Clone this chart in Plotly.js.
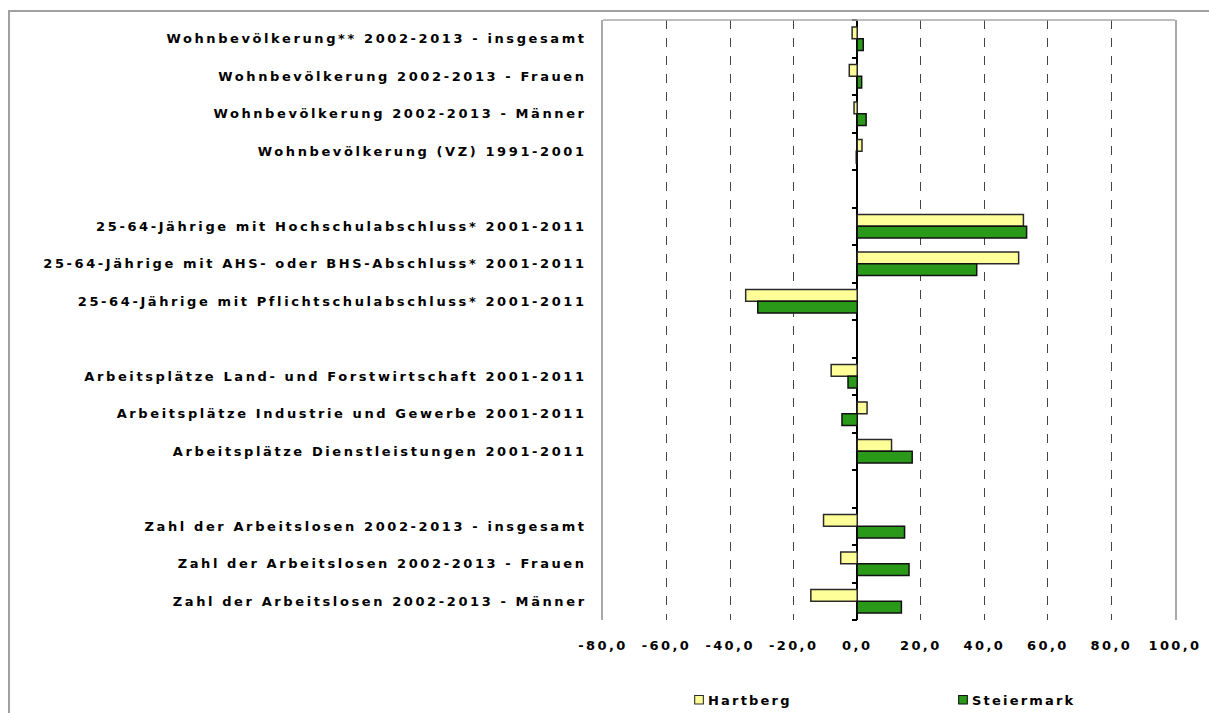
<!DOCTYPE html>
<html>
<head>
<meta charset="utf-8">
<script src="https://cdn.plot.ly/plotly-3.0.1.min.js"></script>
<style>
  html, body { margin: 0; padding: 0; background: #fff; overflow: hidden; }
  #chart { width: 1209px; height: 713px; position: absolute; left: 0; top: 0; }
  #frame { position: absolute; left: 8px; top: 10px; width: 1400px; height: 900px;
           border-left: 2px solid #a0a0a0; border-top: 2px solid #a0a0a0; pointer-events: none; z-index: 5; }
  .ytick text { letter-spacing: 2.6px; }
  .xtick text { letter-spacing: 2.4px; }
  .legendpoints path { transform: translate(20px, 0px) scale(0.72); }
</style>
</head>
<body>
<div id="chart"></div>
<div id="frame"></div>
<script>
const categories = [
  'Wohnbevölkerung** 2002-2013 - insgesamt',
  'Wohnbevölkerung 2002-2013 - Frauen',
  'Wohnbevölkerung 2002-2013 - Männer',
  'Wohnbevölkerung (VZ) 1991-2001',
  ' ',
  '25-64-Jährige mit Hochschulabschluss* 2001-2011',
  '25-64-Jährige mit AHS- oder BHS-Abschluss* 2001-2011',
  '25-64-Jährige mit Pflichtschulabschluss* 2001-2011',
  '  ',
  'Arbeitsplätze Land- und Forstwirtschaft 2001-2011',
  'Arbeitsplätze Industrie und Gewerbe 2001-2011',
  'Arbeitsplätze Dienstleistungen 2001-2011',
  '   ',
  'Zahl der Arbeitslosen 2002-2013 - insgesamt',
  'Zahl der Arbeitslosen 2002-2013 - Frauen',
  'Zahl der Arbeitslosen 2002-2013 - Männer'
];
const hartberg   = [-1.6, -2.5, -1.0, 1.5, null, 52.3, 50.8, -35.1, null, -8.2, 3.1, 10.8, null, -10.6, -5.2, -14.6];
const steiermark = [1.9, 1.4, 2.8, -0.3, null, 53.3, 37.6, -31.3, null, -2.9, -4.8, 17.3, null, 14.9, 16.3, 13.9];
const seriesNames = ['Hartberg', 'Steiermark'];
const xTickVals = [-80, -60, -40, -20, 0, 20, 40, 60, 80, 100];
const xTickLabels = ['-80,0', '-60,0', '-40,0', '-20,0', '0,0', '20,0', '40,0', '60,0', '80,0', '100,0'];

const FONT = 'DejaVu Sans, Verdana, sans-serif';
const n = categories.length;
const boundaries = [];
for (let i = 0; i <= n; i++) boundaries.push(i - 0.5);

const traces = [
  { type: 'bar', orientation: 'h', name: seriesNames[0], y: categories, x: hartberg, legend: 'legend',
    marker: { color: '#FFFF99', line: { color: '#2a2a2a', width: 1.5 } }, hoverinfo: 'x+name' },
  { type: 'bar', orientation: 'h', name: seriesNames[1], y: categories, x: steiermark, legend: 'legend2',
    marker: { color: '#2A991A', line: { color: '#111111', width: 1.5 } }, hoverinfo: 'x+name' },
  { type: 'scatter', mode: 'markers', x: [null], y: [null], yaxis: 'y2', showlegend: false, hoverinfo: 'skip' }
];

const legendBase = {
  orientation: 'h', xanchor: 'left', yanchor: 'middle', y: -0.133,
  font: { family: FONT, size: 13, color: '#000', weight: 'bold' },
  bgcolor: 'rgba(0,0,0,0)', borderwidth: 0
};

const layout = {
  width: 1209, height: 713,
  margin: { l: 603, r: 34, t: 20, b: 93, pad: 0, autoexpand: false },
  paper_bgcolor: '#ffffff', plot_bgcolor: '#ffffff',
  font: { family: FONT, size: 13, color: '#000' },
  barmode: 'group', bargap: 0.37, bargroupgap: 0,
  showlegend: true,
  legend: Object.assign({}, legendBase, { x: 0.1329 }),
  legend2: Object.assign({}, legendBase, { x: 0.5944 }),
  xaxis: {
    range: [-80, 100], tickvals: xTickVals, ticktext: xTickLabels,
    showgrid: true, gridcolor: '#444', griddash: 'dash', gridwidth: 1.2,
    zeroline: true, zerolinecolor: '#000', zerolinewidth: 2,
    showline: false, ticks: '', ticklabelstandoff: 16,
    tickfont: { family: FONT, size: 13, color: '#000', weight: 'bold' },
    fixedrange: true
  },
  yaxis: {
    type: 'category', categoryorder: 'array', categoryarray: categories,
    range: [n - 0.5, -0.5],
    showgrid: false, zeroline: false,
    showline: true, mirror: true, linecolor: '#a8a8a8', linewidth: 1.5,
    ticks: '', ticklabelstandoff: 12,
    tickfont: { family: FONT, size: 13, color: '#000', weight: 'bold' },
    fixedrange: true
  },
  yaxis2: {
    overlaying: 'y', anchor: 'free', position: (0 - (-80)) / 180,
    range: [n - 0.5, -0.5], tickvals: boundaries,
    ticks: 'outside', ticklen: 5, tickwidth: 2, tickcolor: '#000',
    showticklabels: false, showgrid: false, zeroline: false, showline: false,
    fixedrange: true
  },
  shapes: [
    { type: 'line', xref: 'paper', yref: 'paper', x0: 0, x1: 1, y0: 1, y1: 1,
      line: { color: '#a8a8a8', width: 1.5 } }
  ]
};

function tightenLegendText(gd) {
  gd.querySelectorAll('text').forEach(function (t) {
    if (seriesNames.indexOf(t.textContent.trim()) < 0) return;
    if (t.closest('.ytick') || t.closest('.xtick')) return;
    t.style.letterSpacing = '2.2px';
    t.style.transform = 'translate(-11px, 0px)';
    var el = t.parentNode;
    while (el && el !== gd && el.tagName && el.tagName.toLowerCase() !== 'svg') {
      if (el.hasAttribute && el.hasAttribute('clip-path')) el.removeAttribute('clip-path');
      el = el.parentNode;
    }
  });
}

Plotly.newPlot('chart', traces, layout, { displayModeBar: false }).then(function (gd) {
  tightenLegendText(gd);
  setTimeout(function () { tightenLegendText(gd); }, 50);
  setTimeout(function () { tightenLegendText(gd); }, 300);
});
</script>
</body>
</html>
